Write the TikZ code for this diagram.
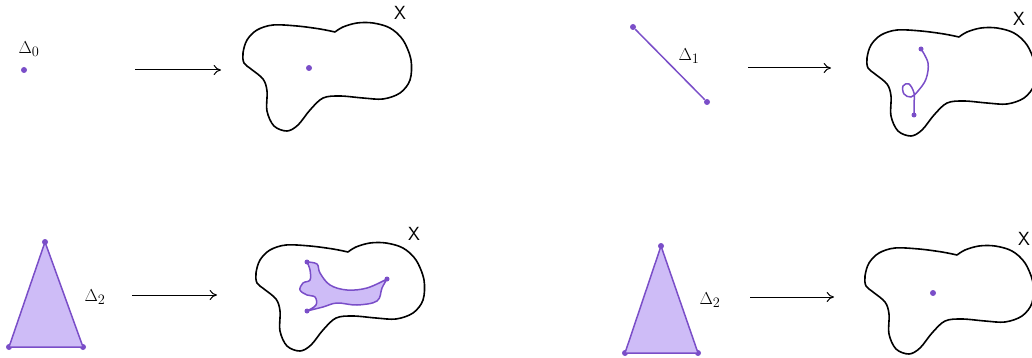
\documentclass[tikz,border=0pt]{standalone}
\usepackage{tikz}
\usepackage{amsmath}
\usetikzlibrary{arrows.meta, positioning}
\definecolor{purp}{RGB}{122,78,200}
\definecolor{lav}{RGB}{206,188,247}

\begin{document}
\begin{tikzpicture}[
  x=1pt, y=-1pt,
  outline/.style={line width=1.6pt, line cap=round, line join=round, black},
  dot/.style={circle, fill=purp, inner sep=0pt, minimum size=6pt},
  simplex/.style={line width=1.5pt, line join=round, draw=purp, fill=lav},
  path/.style={line width=1.5pt, draw=purp},
  arrow/.style={-{To[length=2.6mm, width=3.6mm]}, line width=1pt},
  lbl/.style={font=\fontsize{19}{22}\selectfont, inner sep=0pt},
  space/.style={font=\sffamily\fontsize{19}{22}\selectfont, inner sep=0pt},
  blob/.pic={
    \draw[outline] plot[smooth, tension=0.55] coordinates {
      (92,9) (100,4) (114,0) (130,0) (147,5) (160,17) (168,37) (167,57)
      (157,70) (140,76) (120,75) (97,73) (80,75) (67,87) (55,102) (44,108)
      (31,103) (24,88) (24,68) (20,56) (8,46) (1,40) (0,30) (4,17) (14,7)
      (30,2) (54,3) (77,6) (92,9)};
  }
]
\useasboundingbox (0,0) rectangle (1032,358);

% top left: vertex
\node[dot] (v0) at (24,70) {};
\node[lbl] (d0) at (29,49) {$\Delta_0$};
\coordinate (a0s) at (135,70);
\coordinate (a0e) at (221,70);
\draw[arrow] (a0s) -- (a0e);
\pic at (243,23) {blob};
\node[space] (x0) at (400,13) {X};
\node[dot] (q0) at (309,68) {};

% top right: edge
\node[dot] (e1a) at (633,27) {};
\node[dot] (e1b) at (707,102) {};
\draw[path] (e1a) -- (e1b);
\node[lbl] (d1) at (689,56) {$\Delta_1$};
\coordinate (a1s) at (748,68);
\coordinate (a1e) at (831,68);
\draw[arrow] (a1s) -- (a1e);
\pic at (867,28) {blob};
\node[space] (x1) at (1019,19) {X};
\node[dot, minimum size=5pt] (c1a) at (921,49) {};
\node[dot, minimum size=5pt] (c1b) at (914,115) {};
\draw[path] plot[smooth, tension=0.6] coordinates {
  (921,49) (928,63) (926,79) (918,91) (911,97) (904,94) (903,86)
  (909,84) (914,93) (914,104) (914,115)};

% bottom left: triangle, region
\node[dot] (t0a) at (45,242) {};
\node[dot] (t0b) at (9,347) {};
\node[dot] (t0c) at (83,347) {};
\draw[simplex] (t0a.center) -- (t0b.center) -- (t0c.center) -- cycle;
\node[lbl] (d2) at (95,297) {$\Delta_2$};
\coordinate (a2s) at (132,295);
\coordinate (a2e) at (217,295);
\draw[arrow] (a2s) -- (a2e);
\pic at (256,243) {blob};
\node[space] (x2) at (414,234) {X};
\draw[simplex]
  plot[smooth, tension=0.6] coordinates {(307,262) (317,264) (320,273) (330,285) (347,290) (367,288) (387,279)}
  -- plot[smooth, tension=0.6] coordinates {(387,279) (382,288) (377,301) (357,305) (337,303) (323,307) (307,311)}
  -- plot[smooth, tension=0.6] coordinates {(307,311) (316,305) (315,297) (307,295) (300,290) (303,283) (310,280) (310,270) (307,262)}
  -- cycle;
\node[dot, minimum size=5pt] (r2a) at (307,262) {};
\node[dot, minimum size=5pt] (r2b) at (387,279) {};
\node[dot, minimum size=5pt] (r2c) at (307,311) {};

% bottom right: triangle, collapsed
\node[dot] (t3a) at (661,246) {};
\node[dot] (t3b) at (625,353) {};
\node[dot] (t3c) at (698,353) {};
\draw[simplex] (t3a.center) -- (t3b.center) -- (t3c.center) -- cycle;
\node[lbl] (d3) at (710,300) {$\Delta_2$};
\coordinate (a3s) at (750,297);
\coordinate (a3e) at (834,297);
\draw[arrow] (a3s) -- (a3e);
\pic at (865,246) {blob};
\node[space] (x3) at (1024,239) {X};
\node[dot] (q3) at (933,293) {};

\end{tikzpicture}
\end{document}
